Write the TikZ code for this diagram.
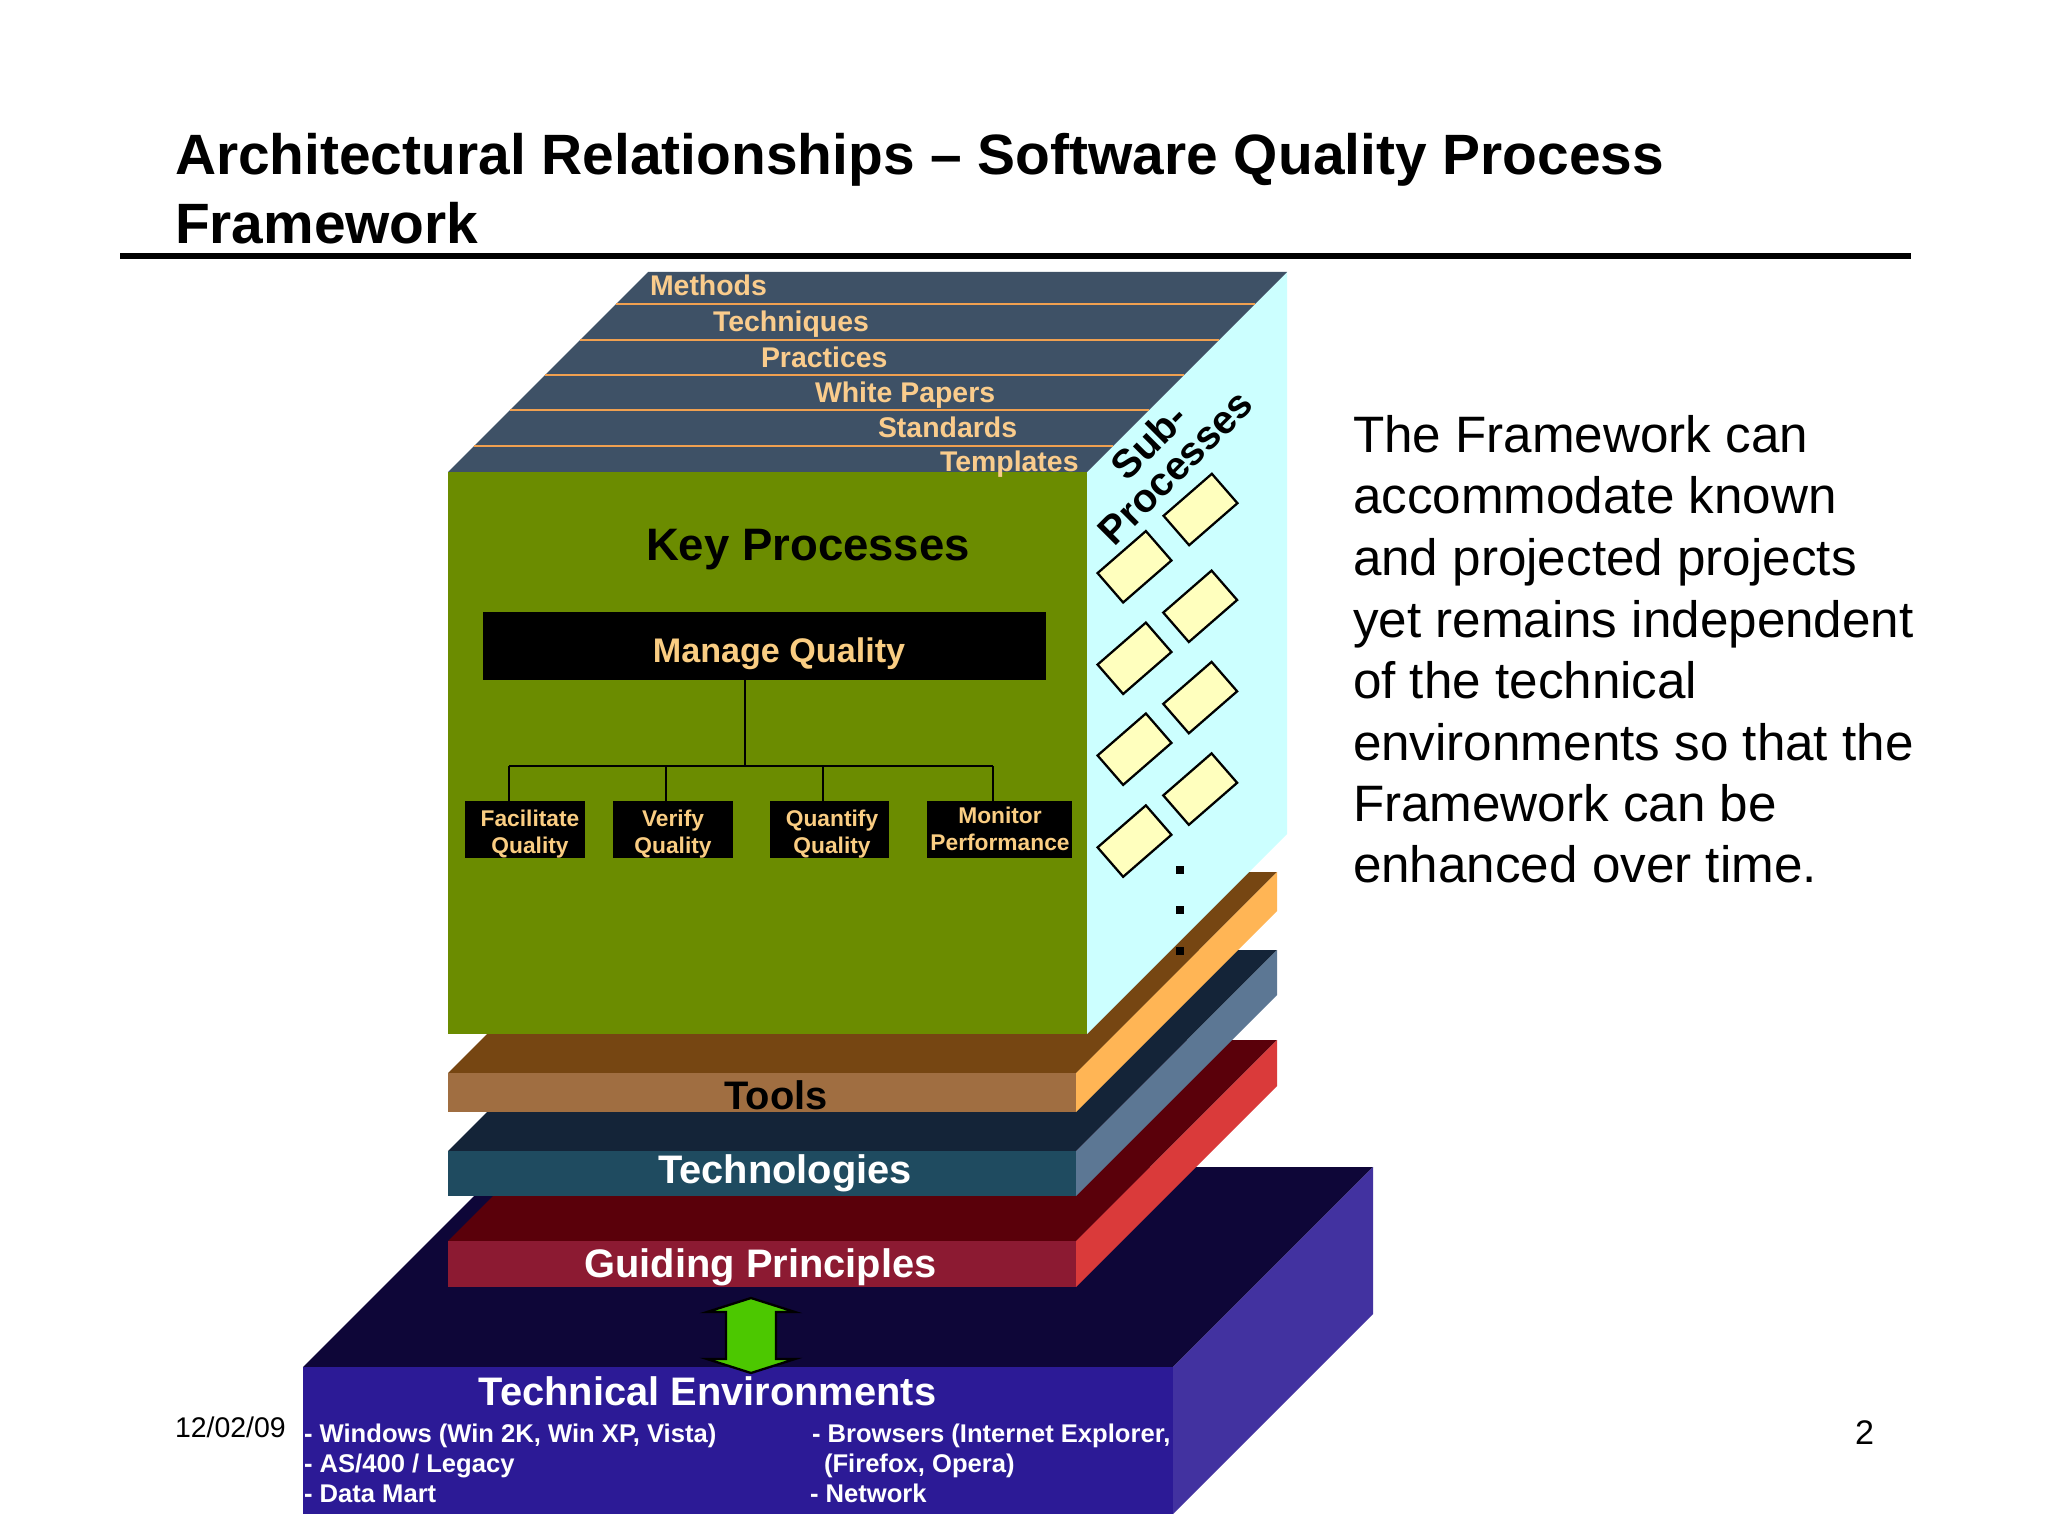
\documentclass[tikz,border=0pt]{standalone}
\usepackage{fontspec}
\setmainfont{Liberation Sans}
\definecolor{slab}{RGB}{62,81,102}
\definecolor{stripe}{RGB}{240,160,80}
\definecolor{stripetxt}{RGB}{250,204,140}
\definecolor{kpgreen}{RGB}{107,140,0}
\definecolor{subcyan}{RGB}{204,255,255}
\definecolor{subyellow}{RGB}{255,255,190}
\definecolor{mqtext}{RGB}{250,205,130}
\definecolor{toolsfront}{RGB}{160,110,65}
\definecolor{toolstop}{RGB}{118,70,18}
\definecolor{toolsside}{RGB}{255,181,85}
\definecolor{techfront}{RGB}{31,75,96}
\definecolor{techtop}{RGB}{20,36,56}
\definecolor{techside}{RGB}{92,119,148}
\definecolor{guidefront}{RGB}{140,26,50}
\definecolor{guidetop}{RGB}{90,0,10}
\definecolor{guideside}{RGB}{218,58,58}
\definecolor{envfront}{RGB}{44,26,150}
\definecolor{envtop}{RGB}{14,6,56}
\definecolor{envside}{RGB}{66,50,160}
\definecolor{arrowgreen}{RGB}{76,200,0}
\begin{document}
\begin{tikzpicture}[x=0.3515625pt,y=-0.3515625pt,
  every node/.style={inner sep=0pt, outer sep=0pt},
  titletxt/.style={font=\fontsize{20}{24}\selectfont\bfseries, anchor=base west},
  bodytxt/.style={font=\fontsize{18}{21.6}\selectfont, anchor=base west},
  stripetext/.style={font=\fontsize{10}{12}\selectfont\bfseries, text=stripetxt, anchor=base west},
  layertxt/.style={font=\fontsize{14}{16.8}\selectfont\bfseries, anchor=base},
  envtxt/.style={font=\fontsize{9}{10.8}\selectfont\bfseries, text=white, anchor=base west},
  pbox/.style={fill=black, minimum height=20.2pt},
  ptext/.style={font=\fontsize{8}{9.4}\selectfont\bfseries, text=mqtext, align=center},
  subbox/.style={draw=black, line width=0.8pt, fill=subyellow, rotate=41, minimum width=22.5pt, minimum height=13.7pt},
  treeline/.style={line width=0.7pt, black},
  dotmark/.style={fill=black, minimum width=3pt, minimum height=3pt}
]
\useasboundingbox (0,0) rectangle (2048,1536);
\fill[white] (0,0) rectangle (2048,1536);

% title
\node[titletxt] (title1) at (175,175) {Architectural Relationships – Software Quality Process};
\node[titletxt] (title2) at (175,244) {Framework};
\fill[black] (120,253) rectangle (1911,259);

% Technical environments slab
\fill[envtop] (303,1367) -- (1173,1367) -- (1373,1167) -- (503,1167) -- cycle;
\fill[envside] (1173,1367) -- (1373,1167) -- (1373,1314) -- (1173,1514) -- cycle;
\fill[envfront] (303,1367) rectangle (1173,1514);

% Guiding principles slab
\fill[guidetop] (448,1241) -- (1076,1241) -- (1277,1040) -- (649,1040) -- cycle;
\fill[guideside] (1076,1241) -- (1277,1040) -- (1277,1086) -- (1076,1287) -- cycle;
\fill[guidefront] (448,1241) rectangle (1076,1287);

% Technologies slab
\fill[techtop] (448,1151) -- (1076,1151) -- (1277,950) -- (649,950) -- cycle;
\fill[techside] (1076,1151) -- (1277,950) -- (1277,995) -- (1076,1196) -- cycle;
\fill[techfront] (448,1151) rectangle (1076,1196);

% Tools slab
\fill[toolstop] (448,1073) -- (1076,1073) -- (1277,872) -- (649,872) -- cycle;
\fill[toolsside] (1076,1073) -- (1277,872) -- (1277,911) -- (1076,1112) -- cycle;
\fill[toolsfront] (448,1073) rectangle (1076,1112);

% cube
\fill[subcyan] (1087,472) -- (1287,272) -- (1287,834) -- (1087,1034) -- cycle;
\fill[kpgreen] (448,472) rectangle (1087,1034);
\fill[slab] (448,472) -- (1087,472) -- (1287,272) -- (648,272) -- cycle;
\foreach \yy in {304,340,375,410,446}
  \draw[stripe, line width=1pt] ({920-\yy},\yy) -- ({1559-\yy},\yy);

% stripe labels
\node[stripetext] (methods) at (650,296) {Methods};
\node[stripetext] (techniques) at (713,332) {Techniques};
\node[stripetext] (practices) at (761,368) {Practices};
\node[stripetext] (papers) at (815,403) {White Papers};
\node[stripetext] (standards) at (878,438) {Standards};
\node[stripetext] (templates) at (940,472) {Templates};

% key processes
\node[font=\fontsize{16}{19.2}\selectfont\bfseries, anchor=base] (kp) at (808,561) {Key Processes};
\node[fill=black, minimum width=198pt, minimum height=24pt] (mq) at (764.8,646) {};
\node[font=\fontsize{12}{14.4}\selectfont\bfseries, text=mqtext, anchor=base] (mqt) at (779,663) {Manage Quality};

\node[pbox, minimum width=42.2pt] (fq) at (525.3,829.5) {};
\node[pbox, minimum width=42.2pt] (vq) at (672.6,829.5) {};
\node[pbox, minimum width=41.9pt] (qq) at (829.2,829.5) {};
\node[pbox, minimum width=51.2pt] (mp) at (999.5,829.5) {};
\node[ptext] (fqt) at (530,834) {Facilitate\\Quality};
\node[ptext] (vqt) at (673,834) {Verify\\Quality};
\node[ptext] (qqt) at (832,834) {Quantify\\Quality};
\node[ptext] (mpt) at (1000,828.5) {Monitor\\Performance};

\coordinate (junc) at (745,766);
\coordinate (b1) at (509,766);
\coordinate (b2) at (666,766);
\coordinate (b3) at (822.5,766);
\coordinate (b4) at (993,766);
\draw[treeline] (mq.south -| junc) -- (junc);
\draw[treeline] (b1) -- (b4);
\draw[treeline] (b1) -- (b1 |- fq.north);
\draw[treeline] (b2) -- (b2 |- vq.north);
\draw[treeline] (b3) -- (b3 |- qq.north);
\draw[treeline] (b4) -- (b4 |- mp.north);

% sub-processes
\node[rotate=45, align=center, font=\fontsize{14}{13}\selectfont\bfseries] (subp) at (1162,454) {Sub-\\Processes};
\node[subbox] (s1) at (1200.5,509.5) {};
\node[subbox] (s2) at (1134.5,566.8) {};
\node[subbox] (s3) at (1200.2,606.3) {};
\node[subbox] (s4) at (1134.5,658.3) {};
\node[subbox] (s5) at (1200.2,697.6) {};
\node[subbox] (s6) at (1134.5,749.2) {};
\node[subbox] (s7) at (1200.2,789.1) {};
\node[subbox] (s8) at (1134.5,841.1) {};
\node[dotmark] (d1) at (1180,870) {};
\node[dotmark] (d2) at (1180,910) {};
\node[dotmark] (d3) at (1180,951) {};

% layer labels
\node[layertxt] (tools) at (776,1109) {Tools};
\node[layertxt, text=white] (techn) at (785,1183) {Technologies};
\node[layertxt, text=white] (guide) at (760.5,1277) {Guiding Principles};

% arrow
\filldraw[fill=arrowgreen, draw=black, line width=0.8pt, line join=miter]
  (751,1298) -- (795,1312) -- (776,1312) -- (776,1359) -- (795,1359) -- (751,1373)
  -- (707,1359) -- (726,1359) -- (726,1312) -- (707,1312) -- cycle;

% technical environments text
\node[layertxt, text=white] (envt) at (707.6,1405) {Technical Environments};
\node[envtxt] (e1) at (304,1442) {- Windows (Win 2K, Win XP, Vista)};
\node[envtxt] (e2) at (304,1472) {- AS/400 / Legacy};
\node[envtxt] (e3) at (304,1502) {- Data Mart};
\node[envtxt] (e4) at (812,1442) {- Browsers (Internet Explorer,};
\node[envtxt] (e5) at (824,1472) {(Firefox, Opera)};
\node[envtxt] (e6) at (810,1502) {- Network};

% body text
\node[bodytxt] (p1) at (1353,453) {The Framework can};
\node[bodytxt] (p2) at (1353,514) {accommodate known};
\node[bodytxt] (p3) at (1353,576) {and projected projects};
\node[bodytxt] (p4) at (1353,637) {yet remains independent};
\node[bodytxt] (p5) at (1353,698) {of the technical};
\node[bodytxt] (p6) at (1353,760) {environments so that the};
\node[bodytxt] (p7) at (1353,821) {Framework can be};
\node[bodytxt] (p8) at (1353,882) {enhanced over time.};

% footer
\node[anchor=base west, font=\fontsize{10}{12}\selectfont] (date) at (175,1437) {12/02/09};
\node[anchor=base west, font=\fontsize{12}{14.4}\selectfont] (page) at (1855,1444) {2};
\end{tikzpicture}
\end{document}
